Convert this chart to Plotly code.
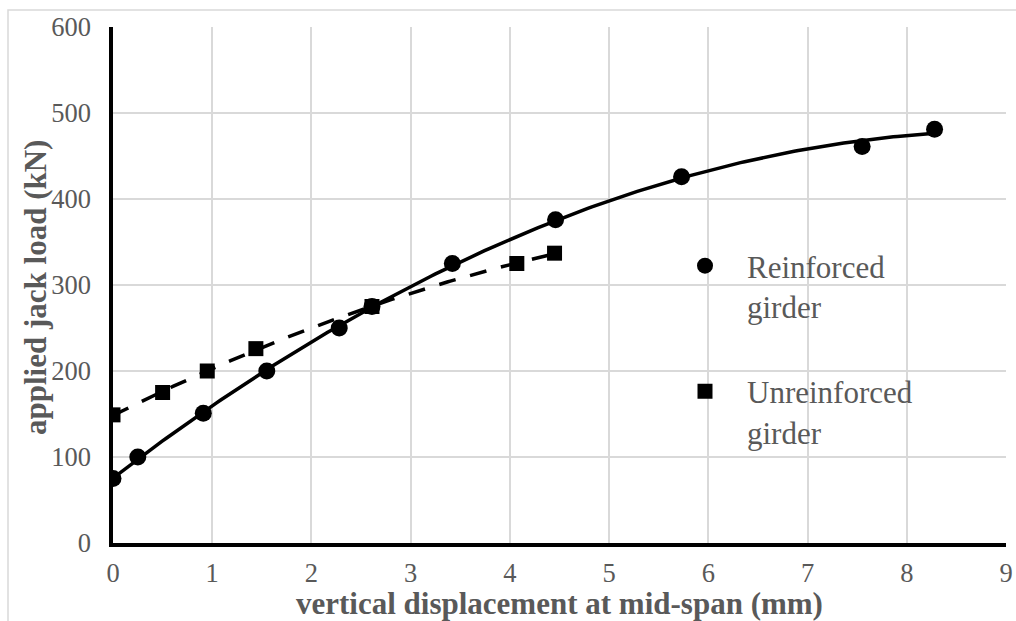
import numpy as np
import plotly.graph_objects as go

# Data
reinf_x = [0.0, 0.25, 0.91, 1.55, 2.28, 2.61, 3.42, 4.46, 5.73, 7.55, 8.28]
reinf_y = [75, 100, 151, 200, 250, 275, 325, 376, 426, 461, 481]
unreinf_x = [0.0, 0.50, 0.95, 1.44, 2.61, 4.07, 4.45]
unreinf_y = [149, 175, 200, 226, 275, 325, 337]

x_ticks = list(range(0, 10))
y_ticks = list(range(0, 700, 100))

FONT = "Liberation Serif"
GREY = "#595959"
GRID = "#d9d9d9"

# polynomial (order 2) trendlines fitted to the data
def trend(xs, ys, n=200):
    c = np.polyfit(xs, ys, 2)
    xx = np.linspace(min(xs), max(xs), n)
    return xx, np.polyval(c, xx)

rtx, rty = trend(reinf_x, reinf_y)
utx, uty = trend(unreinf_x, unreinf_y)

fig = go.Figure()
fig.add_trace(go.Scatter(x=rtx, y=rty, mode="lines", line=dict(color="black", width=3.5),
                         showlegend=False, hoverinfo="skip"))
fig.add_trace(go.Scatter(x=utx, y=uty, mode="lines",
                         line=dict(color="black", width=3.5, dash="17px,15px"),
                         showlegend=False, hoverinfo="skip"))
fig.add_trace(go.Scatter(x=reinf_x, y=reinf_y, mode="markers", name="Reinforced<br>girder",
                         legendgroup="a",
                         marker=dict(symbol="circle", size=17, color="black")))
fig.add_trace(go.Scatter(x=unreinf_x, y=unreinf_y, mode="markers", name="Unreinforced<br>girder",
                         legendgroup="b",
                         marker=dict(symbol="square", size=15, color="black")))

W, H = 1016, 621
L, R, T, B = 113, 10, 27, 78
pw, ph = W - L - R, H - T - B

def px2paper_x(px):
    return (px - L) / pw

def px2paper_y(py):
    return (H - B - py) / ph

fig.update_layout(
    width=W, height=H,
    margin=dict(l=L, r=R, t=T, b=B, autoexpand=False),
    paper_bgcolor="white", plot_bgcolor="white",
    font=dict(family=FONT, color=GREY),
    showlegend=True,
    legend=dict(
        x=px2paper_x(663), y=px2paper_y(239), xanchor="left", yanchor="top",
        bgcolor="rgba(0,0,0,0)", font=dict(family=FONT, size=31, color=GREY),
        itemwidth=74, valign="top", tracegroupgap=42,
    ),
    xaxis=dict(
        range=[0, 9], tickvals=x_ticks, ticktext=[str(v) for v in x_ticks],
        showgrid=True, gridcolor=GRID, gridwidth=1.5,
        showline=True, linecolor="black", linewidth=3.5, zeroline=False,
        ticks="", tickfont=dict(family=FONT, size=26.5, color=GREY),
        ticklabelstandoff=3,
    ),
    yaxis=dict(
        range=[0, 600], tickvals=y_ticks, ticktext=[str(v) for v in y_ticks],
        showgrid=True, gridcolor=GRID, gridwidth=1.5,
        showline=True, linecolor="black", linewidth=3.5, zeroline=False,
        ticks="", tickfont=dict(family=FONT, size=26.5, color=GREY),
        ticklabelstandoff=13,
    ),
    shapes=[
        # white box behind legend (covers gridlines)
        dict(type="rect", xref="paper", yref="paper",
             x0=px2paper_x(643), x1=px2paper_x(954), y0=px2paper_y(493), y1=px2paper_y(237),
             fillcolor="white", line=dict(width=0), layer="between"),
        # outer chart border
        dict(type="rect", xref="paper", yref="paper",
             x0=px2paper_x(8), x1=px2paper_x(1030), y0=px2paper_y(640), y1=px2paper_y(10),
             line=dict(color=GRID, width=1.5), fillcolor="rgba(0,0,0,0)", layer="below"),
    ],
    annotations=[
        dict(text="<b>vertical displacement at mid-span (mm)</b>", xref="paper", yref="paper",
             x=px2paper_x(559), y=px2paper_y(603), xanchor="center", yanchor="middle",
             showarrow=False, font=dict(family=FONT, size=31, color=GREY)),
        dict(text="<b>applied jack load (kN)</b>", xref="paper", yref="paper",
             x=px2paper_x(35), y=px2paper_y(288), xanchor="center", yanchor="middle",
             textangle=-90, showarrow=False, font=dict(family=FONT, size=31, color=GREY)),
    ],
)

fig.write_html("out.html")
